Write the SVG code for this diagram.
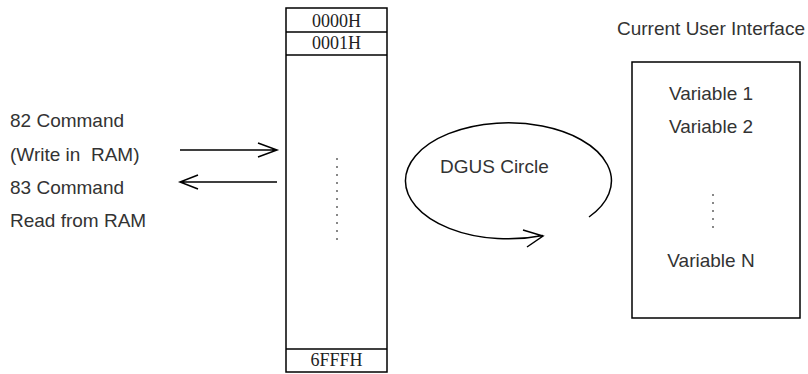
<svg xmlns="http://www.w3.org/2000/svg" width="808" height="374" viewBox="0 0 808 374">
<style>
.s{font-family:"Liberation Sans",Arial,sans-serif;font-size:19px;fill:#333}
.m{font-family:"Liberation Serif","Times New Roman",serif;font-size:18px;fill:#222;text-anchor:middle}
.ln{stroke:#000;stroke-width:1.5;fill:none}
.dot{fill:#888}
</style>
<rect width="808" height="374" fill="#fff"/>
<g id="commands">
<text class="s" x="10" y="127">82 Command</text>
<text class="s" x="10" y="161">(Write in&#160; RAM)</text>
<text class="s" x="10" y="194">83 Command</text>
<text class="s" x="10" y="227">Read from RAM</text>
</g>
<g id="memory">
<rect class="ln" x="286" y="8" width="101" height="364" stroke-width="2"/>
<line class="ln" x1="286" y1="32" x2="387" y2="32"/>
<line class="ln" x1="286" y1="55" x2="387" y2="55"/>
<line class="ln" x1="286" y1="349" x2="387" y2="349"/>
<text class="m" x="336.5" y="27">0000H</text>
<text class="m" x="336.5" y="49">0001H</text>
<text class="m" x="336.5" y="366">6FFFH</text>
<g class="dot">
<rect x="336" y="158" width="2" height="2"/><rect x="336" y="166" width="2" height="2"/><rect x="336" y="174" width="2" height="2"/><rect x="336" y="182" width="2" height="2"/><rect x="336" y="190" width="2" height="2"/><rect x="336" y="198" width="2" height="2"/><rect x="336" y="206" width="2" height="2"/><rect x="336" y="214" width="2" height="2"/><rect x="336" y="222" width="2" height="2"/><rect x="336" y="230" width="2" height="2"/><rect x="336" y="238" width="2" height="2"/>
</g>
</g>
<g id="ui">
<text class="s" x="617" y="35">Current User Interface</text>
<rect class="ln" x="632" y="62" width="168" height="256"/>
<text class="s" x="711" y="100" text-anchor="middle">Variable 1</text>
<text class="s" x="711" y="133" text-anchor="middle">Variable 2</text>
<text class="s" x="711" y="267" text-anchor="middle">Variable N</text>
<g class="dot">
<rect x="712" y="194" width="2" height="2"/><rect x="712" y="202" width="2" height="2"/><rect x="712" y="210" width="2" height="2"/><rect x="712" y="218" width="2" height="2"/><rect x="712" y="226" width="2" height="2"/>
</g>
</g>
<g id="dgus">
<text class="s" x="440" y="173">DGUS Circle</text>
</g>
<g id="connectors" class="ln">
<path d="M180 150H277M258 143L277 150L258 157"/>
<path d="M277 182H180M198 175L180 182L198 189"/>
<path d="M589 217A103 58 0 1 0 543 235.5M523 230L543 236L527 247"/>
</g>
</svg>
